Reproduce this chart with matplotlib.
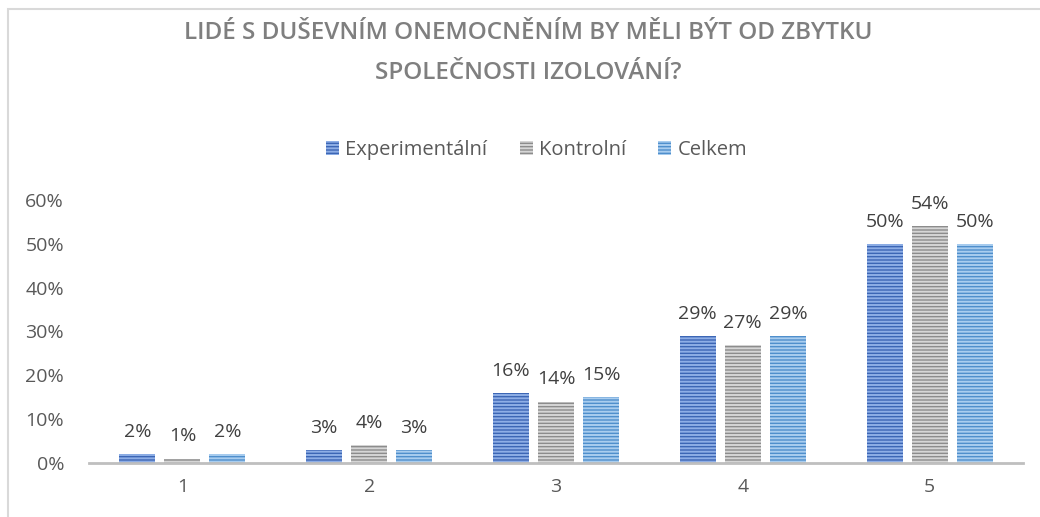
import numpy as np
import matplotlib.pyplot as plt
from matplotlib.patches import Rectangle

plt.rcParams['font.family'] = ['Open Sans', 'DejaVu Sans']
plt.rcParams['hatch.linewidth'] = 1.4

categories = ['1', '2', '3', '4', '5']
experimentalni = [0.02, 0.03, 0.16, 0.29, 0.50]
kontrolni = [0.01, 0.04, 0.14, 0.27, 0.54]
celkem = [0.02, 0.03, 0.15, 0.29, 0.50]
series_names = ['Experimentální', 'Kontrolní', 'Celkem']
title_text = 'LIDÉ S DUŠEVNÍM ONEMOCNĚNÍM BY MĚLI BÝT OD ZBYTKU\nSPOLEČNOSTI IZOLOVÁNÍ?'

# face colour, stripe colour
styles = [('#3c66b5', '#8eaee6'),
          ('#8c8c8c', '#d6d6d6'),
          ('#4f8fcc', '#a9cdef')]

fig = plt.figure(figsize=(10.4, 5.17), dpi=100)
fig.patches.append(Rectangle((8 / 1040, -0.1), 1.2, 1.1 - 9 / 517,
                             transform=fig.transFigure, fill=False,
                             edgecolor='#d9d9d9', linewidth=1.5))
ax = fig.add_axes([89 / 1040, 1 - 463 / 517, 934 / 1040, 263 / 517])

x = np.arange(len(categories))
w = 0.193
offs = [-0.241, 0, 0.241]
handles = []
for vals, off, (fc, hc), name in zip([experimentalni, kontrolni, celkem], offs, styles, series_names):
    bars = ax.bar(x + off, vals, w, color=fc, edgecolor=hc, hatch='-----', linewidth=0, label=name)
    handles.append(bars)
    for xi, v in zip(x + off, vals):
        ax.text(xi, v + 0.03, '%d%%' % round(v * 100), ha='center', va='bottom',
                fontsize=14, color='#404040')

ax.set_xlim(-0.5, 4.5)
ax.set_ylim(0, 0.6)
ax.set_yticks(np.arange(0, 0.61, 0.1))
ax.set_yticklabels(['%d%%' % round(t * 100) for t in np.arange(0, 0.61, 0.1)])
ax.set_xticks(x)
ax.set_xticklabels(categories)
ax.tick_params(axis='both', length=0, labelsize=14, colors='#595959')
ax.tick_params(axis='y', pad=18)
ax.tick_params(axis='x', pad=11)
for s in ['top', 'right', 'left']:
    ax.spines[s].set_visible(False)
ax.spines['bottom'].set_color('#bfbfbf')
ax.spines['bottom'].set_linewidth(2)

fig.text(0.508, 1 - 53 / 517, title_text, ha='center', va='center', fontsize=17.5,
         fontweight='semibold', color='#7f7f7f', linespacing=1.85)

fig.legend(handles=handles, loc='center', bbox_to_anchor=(0.516, 1 - 150 / 517), ncol=3,
           frameon=False, fontsize=14.5, labelcolor='#595959', handlelength=0.65,
           handleheight=0.65, handletextpad=0.3, columnspacing=1.6)

fig.savefig('out.png', dpi=100)
